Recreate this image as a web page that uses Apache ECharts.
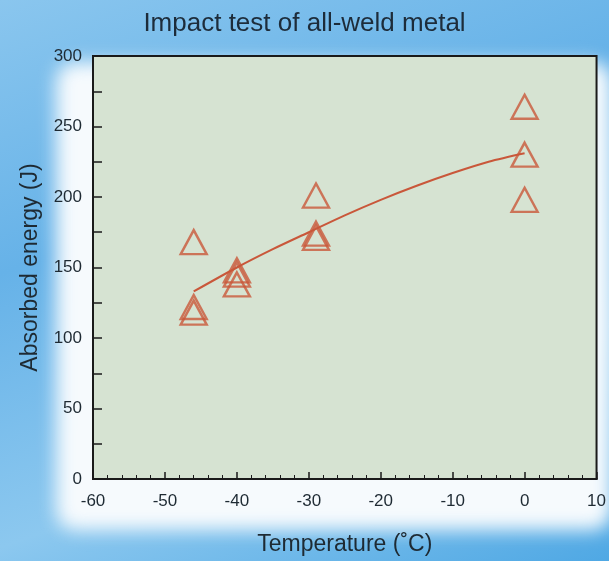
<!DOCTYPE html>
<html><head><meta charset="utf-8">
<script src="https://cdn.jsdelivr.net/npm/echarts@6/dist/echarts.min.js"></script>
<style>
html,body{margin:0;padding:0;width:609px;height:561px;overflow:hidden;}
body{background:linear-gradient(160deg,#8ac6ee 0%,#66b2e8 35%,#8cc8ef 70%,#4fa8e4 100%);position:relative;}
#glow{position:absolute;left:56px;top:62px;width:556px;height:468px;background:#f6fafd;border-radius:20px;filter:blur(9px);}
#c{position:absolute;left:0;top:0;width:609px;height:561px;}
</style></head>
<body>
<div id="glow"></div>
<div id="c"></div>
<script>
const title = 'Impact test of all-weld metal';
const xName = 'Temperature (˚C)';
const yName = 'Absorbed energy (J)';
const temps = [-46, -46, -46, -40, -40, -40, -29, -29, -29, 0, 0, 0];
const energies = [168, 122, 118, 148, 145, 138, 201, 174, 171, 264, 230, 198];
const trendTemps = [-46, -40, -35, -30, -25, -20, -15, -10, -5, 0];
const trendEnergies = [133, 150, 163, 175, 187, 198, 208, 217, 225, 231];

const chart = echarts.init(document.getElementById('c'), null, {renderer:'canvas'});
const axisText = {color:'#1e2a33', fontSize:17, fontFamily:'Liberation Sans, Arial, sans-serif'};
const red = '#c9573a';
chart.setOption({
  backgroundColor:'transparent',
  title:{text:title,left:'center',top:6,textStyle:{fontSize:26,fontWeight:'normal',color:'#1d2c3a',fontFamily:'Liberation Sans, Arial, sans-serif'}},
  grid:{left:93,right:9,top:56,bottom:79,show:true,backgroundColor:'#d6e3d2',borderColor:'#1a1a1a',borderWidth:2},
  xAxis:{type:'value',min:-60,max:10,interval:10,
    name:xName,nameLocation:'middle',nameGap:54,
    nameTextStyle:{fontSize:23,color:'#1e2a33',fontFamily:'Liberation Sans, Arial, sans-serif'},
    axisLine:{show:true,onZero:false,lineStyle:{color:'#1a1a1a',width:2}},
    axisTick:{show:true,inside:true,length:7,lineStyle:{color:'#1a1a1a',width:1.5}},
    minorTick:{show:true,splitNumber:5,length:4,lineStyle:{color:'#1a1a1a',width:1}},
    splitLine:{show:false},
    axisLabel:Object.assign({margin:14},axisText)},
  yAxis:{type:'value',min:0,max:300,interval:50,
    name:yName,nameLocation:'middle',nameGap:51,
    nameTextStyle:{fontSize:23,color:'#1e2a33',fontFamily:'Liberation Sans, Arial, sans-serif'},
    axisLine:{show:true,onZero:false,lineStyle:{color:'#1a1a1a',width:2}},
    axisTick:{show:true,inside:true,length:9,lineStyle:{color:'#1a1a1a',width:1.5}},
    minorTick:{show:true,splitNumber:2,length:9,lineStyle:{color:'#1a1a1a',width:1.5}},
    splitLine:{show:false},
    axisLabel:Object.assign({margin:11},axisText)},
  series:[
    {type:'line',data:trendTemps.map((t,i)=>[t,trendEnergies[i]]),smooth:0.3,showSymbol:false,
     lineStyle:{color:red,width:2},silent:true,z:2},
    {type:'scatter',data:temps.map((t,i)=>[t,energies[i]]),symbol:'triangle',symbolSize:[26,24],
     itemStyle:{color:'rgba(0,0,0,0)',borderColor:red,borderWidth:2.4},z:3}
  ],
  animation:false
});
</script>
</body></html>
